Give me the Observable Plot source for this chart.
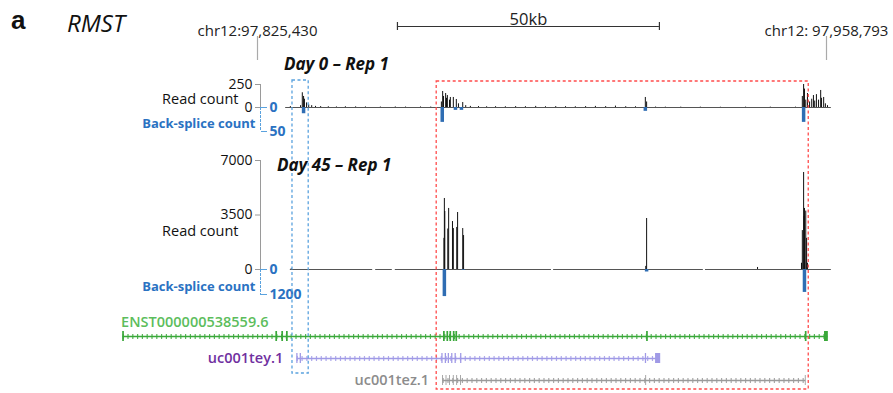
<!DOCTYPE html>
<html><head><meta charset="utf-8">
<script src="https://cdn.jsdelivr.net/npm/d3@7"></script>
<script src="https://cdn.jsdelivr.net/npm/@observablehq/plot@0.6"></script>
<style>
body{margin:0;background:#fff;}
#chart{position:relative;width:893px;height:393px;overflow:hidden;font-family:"Open Sans",sans-serif;}
#chart svg{position:absolute;left:0;top:0;}
.lbl{position:absolute;white-space:nowrap;line-height:1;}
</style></head><body><div id="chart"></div>
<script>
// ---------- data (positions in kb from chr12:97,825,430) ----------
const coordPos = [0, 133.363];
const coordLabels = ["chr12:97,825,430", "chr12: 97,958,793"];
const scaleBar = [32.8, 94.2];
const scaleBarLabel = "50kb";

const day0Base = [[6.6, 134.5]];
const day0ReadPos = [7.7,10.1,10.5,10.8,11.0,11.5,12.0,12.7,13.6,14.8,16.6,18.5,20.6,23.0,25.3,28.8,32.3,34.7,38.2,40.6,
  43.1,43.4,43.6,44.1,44.3,44.5,45.0,45.2,45.9,46.6,47.1,48.1,48.8,
  49.9,51.8,53.7,55.8,58.1,60.5,62.8,65.2,67.5,69.9,72.2,74.5,76.9,79.2,81.6,83.9,86.3,88.6,
  90.9,91.2,93.3,95.6,99.2,103.8,108.5,114.4,120.2,126.1,
  127.7,128.0,128.2,128.5,128.9,129.4,129.9,130.3,130.6,131.0,131.5,132.0,132.2,132.7,133.1,133.6];
const day0ReadVal = [10,20,160,120,90,50,30,20,12,10,8,6,8,7,6,5,6,5,6,5,
  60,174,120,152,100,130,80,109,109,87,40,54,20,
  12,10,8,9,8,10,9,12,8,10,9,8,10,12,10,15,9,8,
  109,60,5,4,4,4,3,4,4,4,
  120,250,200,80,152,60,90,130,70,140,80,185,100,109,40,20];
const day0BsPos = [10.8, 43.3, 46.4, 47.8, 90.9, 128.0];
const day0BsVal = [13, 31, 6, 6, 8, 31];

const day45Base = [[7.7,27.0],[27.7,31.6],[32.3,68.9],[69.4,104.5],[105.0,134.5]];
const day45ReadPos = [7.9, 43.7,43.8,43.9,44.6,44.8,45.7,45.9,46.7,46.9,48.1,48.3, 91.0,91.2, 117.2,
  127.5,127.7,128.0,128.1,128.2,128.5,128.7,128.9];
const day45ReadVal = [50, 2000,4560,3725,2600,3920,3080,2630,2700,3660,2630,2180, 200,3275, 130,
  400,2500,6230,3400,3920,3750,2000,400];
const day45BsPos = [43.8, 48.2, 91.2, 128.2];
const day45BsVal = [1300, 30, 120, 1100];

const geneNames = ["ENST000000538559.6", "uc001tey.1", "uc001tez.1"];
const geneStart = [-31.5, 9.3, 43.5];
const geneEnd = [133.7, 94.4, 128.5];
const geneColors = ["#3aa83a", "#a09ae6", "#9a9a9a"];
const geneLabelColors = ["#5cbd5c", "#7030a0", "#8c8c8c"];
const exonGene = [0,0,0,0,0,0,0,0,0,0,0,0, 1,1,1,1,1,1,1,1,1,1, 2,2,2,2,2,2,2,2];
const exonStart = [-31.6,4.3,5.7,6.8,43.6,44.4,45.1,45.9,46.5,91.2,128.4,132.9,
  9.2,10.0,43.2,44.0,44.7,45.5,46.3,47.6,90.9,93.3,
  43.4,44.2,45.0,45.9,46.7,47.6,91.0,128.4];
const exonEnd = [-31.2,4.7,6.1,7.2,44.0,44.8,45.5,46.3,46.9,91.6,128.8,133.8,
  9.5,10.3,43.5,44.3,45.0,45.8,46.6,47.9,91.2,94.5,
  43.6,44.4,45.2,46.1,46.9,47.8,91.2,128.6];

const redBox = [42.0, 129.2];
const blueBox = [8.2, 12.0];

// ---------- tables ----------
const day0Reads = day0ReadPos.map((p,i)=>({pos:p, v:day0ReadVal[i]}));
const day0Bs = day0BsPos.map((p,i)=>({pos:p, v:day0BsVal[i]}));
const day45Reads = day45ReadPos.map((p,i)=>({pos:p, v:day45ReadVal[i]}));
const day45Bs = day45BsPos.map((p,i)=>({pos:p, v:day45BsVal[i]}));
const genes = geneNames.map((n,i)=>({name:n, start:geneStart[i], end:geneEnd[i], color:geneColors[i], lc:geneLabelColors[i]}));
const exons = exonGene.map((g,i)=>({name:geneNames[g], s:exonStart[i], e:exonEnd[i], color:geneColors[g]}));

// ---------- drawing ----------
const W = 893, H = 393;
const BLUE = "#2a72c2", BLUEBAR = "#2f6db3", BLUEDASH = "#5aa2de";
const xs = {domain:[0,133.363], range:[257,826], axis:null};
const st = {background:"none", overflow:"visible", fontFamily:"Open Sans, sans-serif", fontSize:"14px", color:"#111"};
const chart = document.getElementById("chart");
function add(opts){ chart.appendChild(Plot.plot(Object.assign({width:W, height:H, x:xs, style:st}, opts))); }
function lbl(text, left, top, css){ const d=document.createElement("div"); d.className="lbl"; d.textContent=text; d.style.left=left+"px"; d.style.top=top+"px"; Object.assign(d.style, css||{}); chart.appendChild(d); }

// header coordinate ticks
add({marginTop:36, marginBottom:333, marginLeft:0, marginRight:0, y:{axis:null},
  marks:[
    Plot.ruleX(coordPos, {stroke:"#aaa", strokeWidth:1.2}),
    Plot.text(coordPos, {x:d=>d, text:(d,i)=>coordLabels[i], frameAnchor:"top", dy:-11, fontSize:15, fill:"#222"})
  ]});
// scale bar
add({marginTop:22, marginBottom:363, marginLeft:0, marginRight:0, y:{domain:[0,1], axis:null},
  marks:[
    Plot.ruleY([0.5], {x1:scaleBar[0], x2:scaleBar[1], stroke:"#333", strokeWidth:1.2}),
    Plot.ruleX(scaleBar, {stroke:"#333", strokeWidth:1.2}),
    Plot.text([scaleBarLabel], {x:(scaleBar[0]+scaleBar[1])/2, frameAnchor:"top", dy:-9, fontSize:16.5, fill:"#222"})
  ]});

function readTrack(data, base, top, bottom, ticks, labelDy){
  add({marginTop:top, marginBottom:H-bottom, marginLeft:260, marginRight:0, y:{domain:[0, ticks[ticks.length-1]]},
    marks:[
      Plot.frame({anchor:"left", stroke:"#9a9a9a"}),
      Plot.ruleY(base, {x1:d=>d[0], x2:d=>d[1], y:0, stroke:"#555", strokeWidth:1}),
      Plot.ruleX(data, {x:"pos", y1:0, y2:"v", stroke:"#111", strokeWidth:1}),
      Plot.axisY(ticks, {anchor:"left", tickSize:5, tickPadding:3, stroke:"#9a9a9a", fill:"#111", label:null, tickFormat:d=>String(d), fontSize:14}),
      Plot.text(["Read count"], {frameAnchor:"left", dx:-22, dy:labelDy, textAnchor:"end", fontSize:14.5, fill:"#111"})
    ]});
}
function bsTrack(data, top, bottom, max){
  add({marginTop:top, marginBottom:H-bottom, marginLeft:0, marginRight:W-260, y:{domain:[0,max], reverse:true},
    marks:[
      Plot.frame({anchor:"right", stroke:BLUEDASH, strokeDasharray:"2,2"}),
      Plot.ruleX(data, {x:"pos", y1:0, y2:"v", stroke:BLUEBAR, strokeWidth:3.5}),
      Plot.axisY([0,max], {anchor:"right", tickSize:6, tickPadding:3, stroke:BLUEDASH, fill:BLUE, label:null, tickFormat:d=>String(d), fontSize:14, fontWeight:"bold"}),
      Plot.text(["Back-splice count"], {frameAnchor:"right", dx:-5, dy:4.5, textAnchor:"end", fontSize:13, fontWeight:"bold", fill:BLUE})
    ]});
}
readTrack(day0Reads, day0Base, 84, 107, [0,250], 3);
bsTrack(day0Bs, 107, 131, 50);
readTrack(day45Reads, day45Base, 160, 269, [0,3500,7000], 16.5);
bsTrack(day45Bs, 269, 294, 1200);

// gene models
add({marginTop:0, marginBottom:0, marginLeft:0, marginRight:0,
  y:{type:"band", domain:geneNames, range:[324,391], padding:0, axis:null},
  marks:[
    Plot.ruleY(genes, {y:"name", x1:"start", x2:"end", stroke:"color", strokeWidth:1.6}),
    Plot.ruleY(genes, {y:"name", x1:"start", x2:"end", stroke:"color", strokeWidth:5, strokeDasharray:"1.2,3.6", strokeOpacity:0.85}),
    Plot.barX(exons, {x1:"s", x2:"e", y:"name", fill:"color", insetTop:6, insetBottom:6}),
    Plot.text(genes.slice(0,1), {x:"start", y:"name", text:"name", textAnchor:"start", dx:-2, dy:-14, fill:"lc", fontSize:14.5, fontWeight:600}),
    Plot.text(genes.slice(1), {x:"start", y:"name", text:"name", textAnchor:"end", dx:-14, fill:"lc", fontSize:14.5, fontWeight:600})
  ]});

// highlight boxes
add({marginTop:80, marginBottom:4, marginLeft:0, marginRight:0, y:{axis:null},
  marks:[
    Plot.rect([redBox], {x1:d=>d[0], x2:d=>d[1], insetTop:1, fill:"none", stroke:"#ff4b4b", strokeWidth:1.3, strokeDasharray:"3,2.5"}),
    Plot.rect([blueBox], {x1:d=>d[0], x2:d=>d[1], insetBottom:16, fill:"none", stroke:BLUEDASH, strokeWidth:1.3, strokeDasharray:"3,2.5"})
  ]});

// titles
lbl("a", 11, 7, {fontFamily:"Liberation Sans, Arial, sans-serif", fontWeight:"bold", fontSize:"26px", color:"#111"});
lbl("RMST", 67, 11, {fontStyle:"italic", fontSize:"24px", color:"#111"});
lbl("Day 0 – Rep 1", 284, 55, {fontStyle:"italic", fontWeight:"bold", fontSize:"17px", color:"#111"});
lbl("Day 45 – Rep 1", 277, 156, {fontStyle:"italic", fontWeight:"bold", fontSize:"17px", color:"#111"});
</script></body></html>
